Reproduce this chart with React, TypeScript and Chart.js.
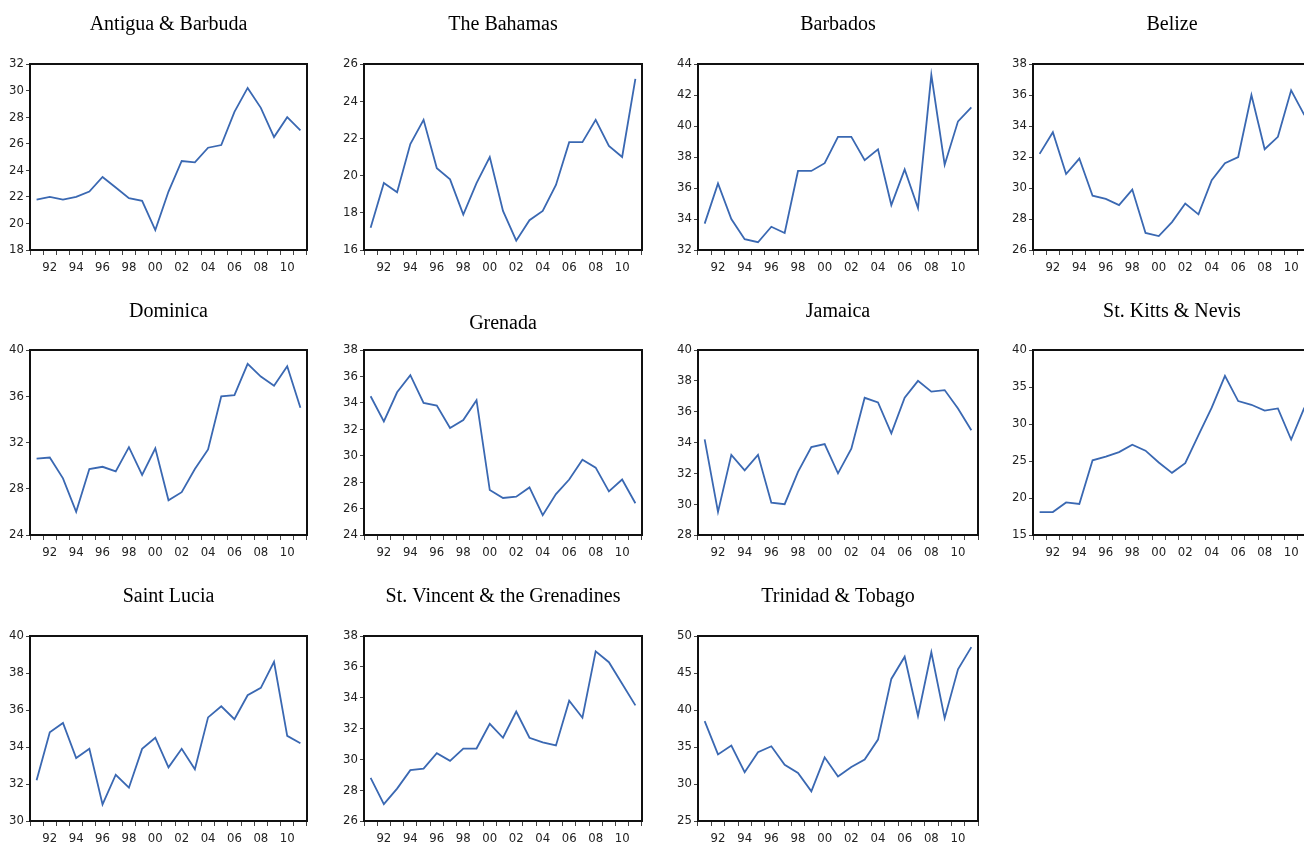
import React, { useEffect, useRef } from "react";
import { Chart, registerables } from "chart.js";

Chart.register(...registerables);

const years = ["1991","1992","1993","1994","1995","1996","1997","1998","1999","2000","2001","2002","2003","2004","2005","2006","2007","2008","2009","2010","2011"];
const xTickLabels = ["","92","","94","","96","","98","","00","","02","","04","","06","","08","","10",""];

const antigua = [21.8,22.0,21.8,22.0,22.4,23.5,22.7,21.9,21.7,19.5,22.4,24.7,24.6,25.7,25.9,28.4,30.2,28.7,26.5,28.0,27.0];
const bahamas = [17.2,19.6,19.1,21.7,23.0,20.4,19.8,17.9,19.6,21.0,18.1,16.5,17.6,18.1,19.5,21.8,21.8,23.0,21.6,21.0,25.2];
const barbados = [33.7,36.3,34.0,32.7,32.5,33.5,33.1,37.1,37.1,37.6,39.3,39.3,37.8,38.5,34.9,37.2,34.7,43.3,37.5,40.3,41.2];
const belize = [32.2,33.6,30.9,31.9,29.5,29.3,28.9,29.9,27.1,26.9,27.8,29.0,28.3,30.5,31.6,32.0,36.0,32.5,33.3,36.3,34.7];
const dominica = [30.6,30.7,28.9,26.0,29.7,29.9,29.5,31.6,29.2,31.5,27.0,27.7,29.7,31.4,36.0,36.1,38.8,37.7,36.9,38.6,35.0];
const grenada = [34.5,32.6,34.8,36.1,34.0,33.8,32.1,32.7,34.2,27.4,26.8,26.9,27.6,25.5,27.1,28.2,29.7,29.1,27.3,28.2,26.4];
const jamaica = [34.2,29.5,33.2,32.2,33.2,30.1,30.0,32.1,33.7,33.9,32.0,33.6,36.9,36.6,34.6,36.9,38.0,37.3,37.4,36.2,34.8];
const stKitts = [18.1,18.1,19.4,19.2,25.1,25.6,26.2,27.2,26.4,24.8,23.4,24.7,28.5,32.2,36.5,33.1,32.6,31.8,32.1,27.9,32.2];
const stLucia = [32.2,34.8,35.3,33.4,33.9,30.9,32.5,31.8,33.9,34.5,32.9,33.9,32.8,35.6,36.2,35.5,36.8,37.2,38.6,34.6,34.2];
const stVincent = [28.8,27.1,28.1,29.3,29.4,30.4,29.9,30.7,30.7,32.3,31.4,33.1,31.4,31.1,30.9,33.8,32.7,37.0,36.3,34.9,33.5];
const trinidad = [38.5,34.0,35.2,31.6,34.3,35.1,32.6,31.5,29.0,33.6,31.0,32.3,33.3,36.0,44.2,47.2,39.2,47.8,38.9,45.5,48.5];

const titles = ["Antigua & Barbuda","The Bahamas","Barbados","Belize","Dominica","Grenada","Jamaica","St. Kitts & Nevis","Saint Lucia","St. Vincent & the Grenadines","Trinidad & Tobago"];
const seriesList = [antigua, bahamas, barbados, belize, dominica, grenada, jamaica, stKitts, stLucia, stVincent, trinidad];
const yMins = [18,16,32,26,24,24,28,15,30,26,25];
const yMaxs = [32,26,44,38,40,38,40,40,40,38,50];
const ySteps = [2,2,2,2,4,2,2,5,2,2,5];

const colLefts = [30, 364, 698, 1033];
const colWidths = [277, 278, 280, 278];
const rowTops = [64, 350, 636];
const rowHeights = [186, 185, 185];
const titleGaps = [42,42,42,42,41,29,41,41,42,42,42];

const Y_AXIS_W = 30;
const X_AXIS_H = 30;
const RIGHT_PAD = 6;
const TITLE_SHIFT = 3;
const TICK_FONT = { family: "'Liberation Sans Narrow', 'DejaVu Sans Condensed', 'Arial Narrow', sans-serif", size: 13 };

const framePlugin = {
  id: "frame",
  afterDatasetsDraw(chart: any) {
    const { ctx, chartArea } = chart;
    ctx.save();
    ctx.strokeStyle = "#111";
    ctx.lineWidth = 2;
    ctx.strokeRect(chartArea.left, chartArea.top, chartArea.right - chartArea.left, chartArea.bottom - chartArea.top);
    ctx.restore();
  },
};

function Panel({ idx }: { idx: number }) {
  const ref = useRef<HTMLCanvasElement | null>(null);
  const col = idx % 4;
  const row = Math.floor(idx / 4);
  const gap = titleGaps[idx];
  const plotLeft = colLefts[col];
  const plotTop = rowTops[row];
  const plotW = colWidths[col];
  const plotH = rowHeights[row];
  const titleH = 24 + (gap - 12);
  const left = plotLeft - Y_AXIS_W;
  const top = plotTop - titleH;
  const width = Y_AXIS_W + plotW + RIGHT_PAD;
  const height = titleH + plotH + X_AXIS_H;

  useEffect(() => {
    if (!ref.current) return;
    const chart = new Chart(ref.current, {
      type: "line",
      data: {
        labels: years,
        datasets: [
          {
            data: seriesList[idx],
            borderColor: "#3a68b2",
            borderWidth: 1.8,
            pointRadius: 0,
            fill: false,
            tension: 0,
          },
        ],
      },
      options: {
        animation: false,
        responsive: false,
        devicePixelRatio: 1,
        layout: { padding: { left: 0, right: RIGHT_PAD, top: 0, bottom: 0 } },
        plugins: {
          legend: { display: false },
          tooltip: { enabled: false },
          title: {
            display: true,
            fullSize: false,
            text: titles[idx],
            color: "#000",
            font: { family: "'Liberation Serif', 'Times New Roman', serif", size: 20, weight: "normal", lineHeight: 1.2 },
            padding: { top: TITLE_SHIFT, bottom: gap - 12 - TITLE_SHIFT },
          },
        },
        scales: {
          x: {
            type: "category",
            offset: true,
            afterFit: (s: any) => { s.height = X_AXIS_H; },
            grid: { offset: true, drawOnChartArea: false, drawTicks: true, tickLength: 5, color: "#444" },
            border: { display: true, color: "#111", width: 1 },
            ticks: {
              autoSkip: false,
              maxRotation: 0,
              minRotation: 0,
              padding: 5,
              color: "#222",
              font: TICK_FONT,
              callback: (_v: any, i: number) => xTickLabels[i],
            },
          },
          y: {
            min: yMins[idx],
            max: yMaxs[idx],
            afterFit: (s: any) => { s.width = Y_AXIS_W; },
            grid: { drawOnChartArea: false, drawTicks: true, tickLength: 4, color: "#444" },
            border: { display: true, color: "#111", width: 1 },
            ticks: {
              stepSize: ySteps[idx],
              padding: 2,
              color: "#222",
              font: TICK_FONT,
            },
          },
        },
      },
      plugins: [framePlugin],
    });
    return () => chart.destroy();
  }, [idx]);

  return (
    <canvas
      ref={ref}
      width={width}
      height={height}
      style={{ position: "absolute", left, top, width, height }}
    />
  );
}

export default function App() {
  return (
    <div style={{ position: "fixed", left: 0, top: 0, width: 1304, height: 843, overflow: "hidden", background: "#fff" }}>
      {titles.map((_, i) => (
        <Panel key={i} idx={i} />
      ))}
    </div>
  );
}
